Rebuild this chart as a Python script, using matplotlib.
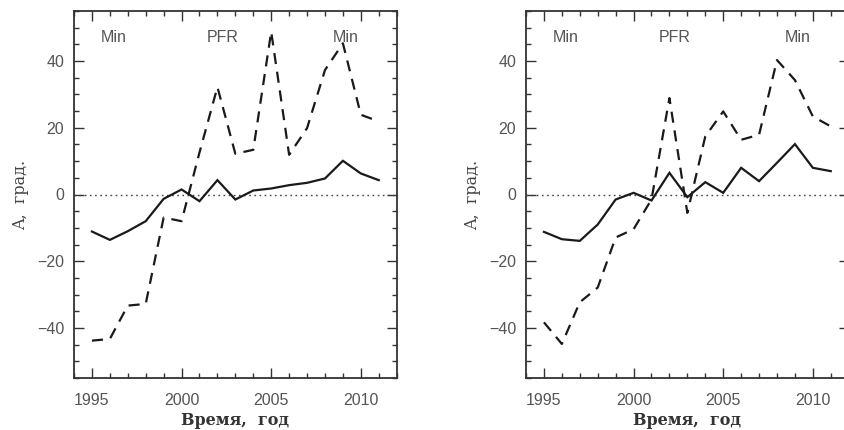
import matplotlib
matplotlib.use("Agg")
import matplotlib.pyplot as plt
from matplotlib.ticker import MultipleLocator

years = list(range(1995, 2012))

left_solid = [-11.1, -13.6, -11.0, -8.0, -1.3, 1.5, -2.0, 4.3, -1.5, 1.2, 1.8, 2.8, 3.5, 4.8, 10.1, 6.3, 4.3]
left_dashed = [-43.8, -43.3, -33.3, -32.8, -6.9, -8.0, 12.6, 32.2, 12.2, 13.4, 48.8, 11.9, 19.9, 37.3, 45.3, 23.9, 21.9]

right_solid = [-11.2, -13.4, -13.9, -9.0, -1.5, 0.5, -1.8, 6.5, -0.8, 3.7, 0.5, 8.0, 4.0, 9.5, 15.1, 8.0, 7.0]
right_dashed = [-38.3, -44.8, -32.3, -27.9, -12.9, -10.4, -1.5, 28.9, -5.5, 17.4, 24.9, 16.4, 17.9, 40.3, 34.3, 23.4, 20.4]

phase_labels = ["Min", "PFR", "Min"]
phase_x = [1996.2, 2002.3, 2009.15]
phase_y = 47.2

xlabel = "Время,  год"
ylabel = "A,  град."

fig = plt.figure(figsize=(8.44, 4.30), dpi=100)

ax_pos = [
    [74 / 844, 52 / 430, 322.7 / 844, 367 / 430],
    [526 / 844, 52 / 430, 322.7 / 844, 367 / 430],
]

txt_col = "#555555"
sp_col = "#333333"
line_col = "#1a1a1a"

for pos, solid, dashed in zip(ax_pos, [left_solid, right_solid], [left_dashed, right_dashed]):
    ax = fig.add_axes(pos)
    ax.set_xlim(1994, 2012)
    ax.set_ylim(-55, 55)
    ax.axhline(0, color="#444444", linestyle=(0, (1.2, 2.5)), linewidth=1.0)
    ax.plot(years, solid, color=line_col, linewidth=1.6, solid_joinstyle="miter")
    ax.plot(years, dashed, color=line_col, linewidth=1.6, linestyle=(0, (5, 3.5)))
    for lab, px in zip(phase_labels, phase_x):
        ax.text(px, phase_y, lab, ha="center", va="center", fontsize=11.5,
                color=txt_col, family="Liberation Sans")
    ax.xaxis.set_major_locator(MultipleLocator(5))
    ax.xaxis.set_minor_locator(MultipleLocator(1))
    ax.yaxis.set_major_locator(MultipleLocator(20))
    ax.yaxis.set_minor_locator(MultipleLocator(5))
    ax.tick_params(which="both", direction="in", top=True, right=True,
                   color=sp_col, width=1.0)
    ax.tick_params(which="major", length=7, labelsize=11.5, labelcolor=txt_col)
    ax.tick_params(axis="x", which="major", pad=11)
    ax.tick_params(axis="y", which="major", pad=7)
    ax.tick_params(which="minor", length=3.5)
    for lab in ax.get_xticklabels() + ax.get_yticklabels():
        lab.set_family("Liberation Sans")
    for sp in ax.spines.values():
        sp.set_color(sp_col)
        sp.set_linewidth(1.3)
    ax.set_xlabel(xlabel, fontsize=11.5, family="DejaVu Serif", color="#333333",
                  labelpad=2.5, fontweight="bold")
    ax.set_ylabel(ylabel, fontsize=11.5, family="DejaVu Serif", color="#444444",
                  labelpad=6)

fig.savefig("out.png", dpi=100)
